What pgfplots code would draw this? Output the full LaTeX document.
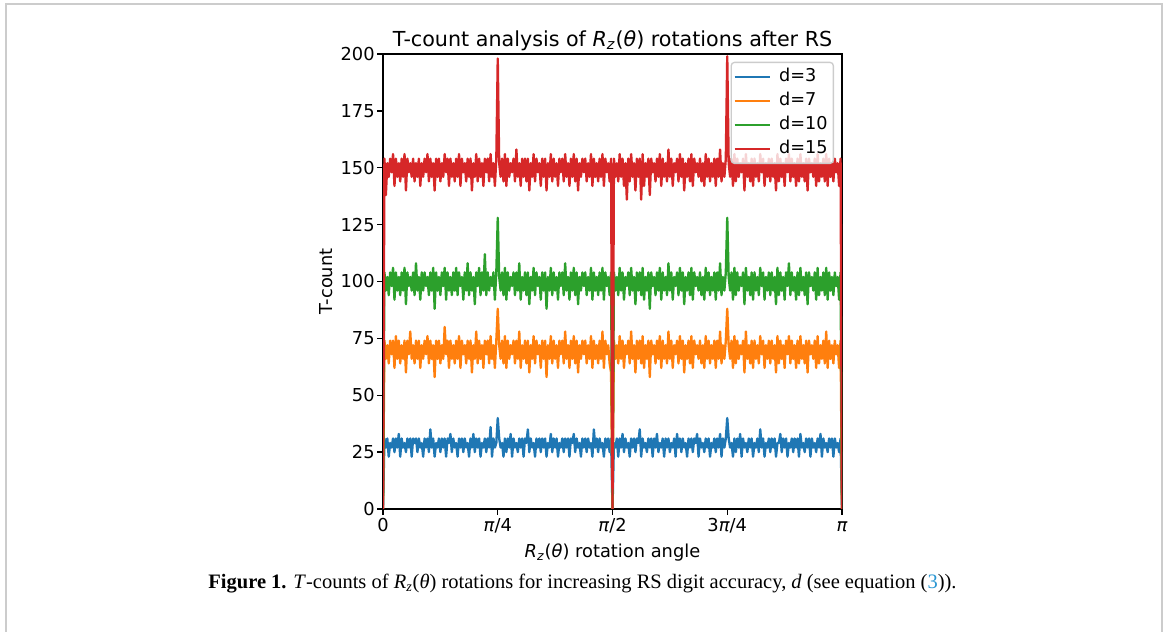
\documentclass[border=0pt]{standalone}
\usepackage{pgfplots}
\pgfplotsset{compat=1.18}
\usepackage{pgfplotstable}
\usepackage{fontspec}
\setmainfont{DejaVu Sans}
\newfontfamily\capfont{Liberation Serif}

\definecolor{tabblue}{HTML}{1F77B4}
\definecolor{taborange}{HTML}{FF7F0E}
\definecolor{tabgreen}{HTML}{2CA02C}
\definecolor{tabred}{HTML}{D62728}
\definecolor{framegray}{HTML}{CCCCCC}
\definecolor{capblue}{HTML}{2A96D2}

% T-count per angle, index 0..320 spans 0..pi (80 = pi/4)
\pgfplotstableread[row sep=\\]{
y\\ 0\\
31\\ 27\\ 31\\ 23\\ 29\\ 27\\ 31\\ 25\\ 31\\ 27\\
33\\ 23\\ 31\\ 27\\ 29\\ 25\\ 31\\ 27\\ 31\\ 23\\
31\\ 29\\ 31\\ 25\\ 31\\ 27\\ 29\\ 23\\ 31\\ 27\\
31\\ 25\\ 35\\ 27\\ 31\\ 23\\ 29\\ 27\\ 31\\ 25\\
31\\ 27\\ 31\\ 23\\ 31\\ 29\\ 33\\ 25\\ 31\\ 27\\
29\\ 23\\ 31\\ 27\\ 31\\ 25\\ 31\\ 27\\ 29\\ 23\\
31\\ 27\\ 33\\ 25\\ 31\\ 27\\ 31\\ 23\\ 29\\ 27\\
31\\ 25\\ 31\\ 27\\ 36\\ 23\\ 31\\ 27\\ 29\\
40\\
31\\ 27\\ 29\\ 23\\ 31\\ 25\\ 31\\ 27\\ 33\\ 23\\
31\\ 27\\ 29\\ 25\\ 31\\ 27\\ 31\\ 23\\ 31\\ 29\\
35\\ 25\\ 31\\ 27\\ 29\\ 23\\ 31\\ 27\\ 31\\ 25\\
31\\ 27\\ 31\\ 23\\ 29\\ 27\\ 33\\ 25\\ 31\\ 27\\
31\\ 23\\ 29\\ 27\\ 31\\ 25\\ 31\\ 27\\ 31\\ 23\\
31\\ 29\\ 33\\ 25\\ 31\\ 27\\ 29\\ 23\\ 31\\ 27\\
31\\ 25\\ 31\\ 27\\ 29\\ 23\\ 35\\ 27\\ 31\\ 25\\
31\\ 27\\ 29\\ 23\\ 31\\ 27\\ 31\\ 25\\ 31\\
0\\
29\\ 27\\ 31\\ 23\\ 31\\ 27\\ 33\\ 25\\ 31\\ 27\\
29\\ 23\\ 31\\ 27\\ 31\\ 25\\ 31\\ 29\\ 35\\ 23\\
31\\ 27\\ 29\\ 25\\ 31\\ 27\\ 31\\ 23\\ 31\\ 27\\
33\\ 25\\ 29\\ 27\\ 31\\ 23\\ 31\\ 27\\ 31\\ 25\\
29\\ 27\\ 31\\ 23\\ 33\\ 27\\ 31\\ 25\\ 31\\ 27\\
29\\ 23\\ 31\\ 27\\ 31\\ 25\\ 31\\ 29\\ 33\\ 23\\
31\\ 27\\ 29\\ 25\\ 31\\ 27\\ 31\\ 23\\ 29\\ 27\\
31\\ 25\\ 31\\ 27\\ 33\\ 23\\ 31\\ 27\\ 31\\
40\\
31\\ 27\\ 29\\ 23\\ 31\\ 25\\ 31\\ 27\\ 33\\ 23\\
31\\ 27\\ 29\\ 25\\ 31\\ 27\\ 31\\ 23\\ 29\\ 27\\
31\\ 25\\ 35\\ 27\\ 31\\ 23\\ 29\\ 27\\ 31\\ 25\\
31\\ 27\\ 31\\ 23\\ 29\\ 29\\ 33\\ 25\\ 31\\ 27\\
31\\ 23\\ 29\\ 27\\ 31\\ 25\\ 31\\ 27\\ 31\\ 23\\
33\\ 27\\ 29\\ 25\\ 31\\ 27\\ 31\\ 23\\ 31\\ 27\\
29\\ 25\\ 31\\ 27\\ 33\\ 23\\ 31\\ 27\\ 29\\ 25\\
31\\ 27\\ 31\\ 23\\ 31\\ 27\\ 29\\ 25\\ 31\\
0\\
}\dthree

\pgfplotstableread[row sep=\\]{
y\\ 0\\
74\\ 66\\ 72\\ 64\\ 74\\ 68\\ 74\\ 62\\ 76\\ 66\\
74\\ 64\\ 72\\ 66\\ 74\\ 60\\ 74\\ 68\\ 78\\ 66\\
72\\ 64\\ 74\\ 66\\ 74\\ 62\\ 72\\ 66\\ 74\\ 68\\
76\\ 64\\ 74\\ 66\\ 72\\ 58\\ 74\\ 66\\ 74\\ 64\\
72\\ 66\\ 80\\ 68\\ 74\\ 62\\ 74\\ 66\\ 72\\ 64\\
74\\ 66\\ 76\\ 62\\ 74\\ 68\\ 72\\ 64\\ 74\\ 66\\
74\\ 60\\ 72\\ 66\\ 78\\ 64\\ 74\\ 66\\ 72\\ 62\\
74\\ 68\\ 74\\ 64\\ 76\\ 66\\ 72\\ 62\\ 74\\
88\\
72\\ 66\\ 74\\ 64\\ 76\\ 62\\ 74\\ 66\\ 72\\ 68\\
74\\ 64\\ 74\\ 66\\ 78\\ 62\\ 72\\ 66\\ 74\\ 64\\
74\\ 60\\ 72\\ 66\\ 76\\ 64\\ 74\\ 68\\ 72\\ 62\\
74\\ 66\\ 74\\ 58\\ 72\\ 66\\ 76\\ 64\\ 74\\ 66\\
72\\ 62\\ 74\\ 68\\ 74\\ 64\\ 78\\ 66\\ 72\\ 62\\
74\\ 66\\ 76\\ 64\\ 74\\ 60\\ 72\\ 66\\ 74\\ 68\\
74\\ 64\\ 72\\ 66\\ 76\\ 62\\ 74\\ 66\\ 72\\ 64\\
74\\ 66\\ 78\\ 62\\ 74\\ 68\\ 72\\ 64\\ 60\\
0\\
74\\ 66\\ 72\\ 64\\ 76\\ 66\\ 74\\ 62\\ 72\\ 68\\
74\\ 64\\ 78\\ 66\\ 72\\ 60\\ 74\\ 66\\ 74\\ 64\\
76\\ 62\\ 72\\ 66\\ 74\\ 58\\ 74\\ 68\\ 72\\ 64\\
74\\ 66\\ 76\\ 62\\ 74\\ 66\\ 72\\ 64\\ 78\\ 66\\
74\\ 62\\ 72\\ 68\\ 74\\ 64\\ 76\\ 66\\ 74\\ 60\\
72\\ 66\\ 74\\ 64\\ 76\\ 62\\ 74\\ 68\\ 72\\ 66\\
74\\ 64\\ 72\\ 62\\ 76\\ 66\\ 74\\ 64\\ 72\\ 66\\
74\\ 62\\ 74\\ 66\\ 78\\ 64\\ 72\\ 66\\ 74\\
88\\
72\\ 66\\ 74\\ 62\\ 76\\ 64\\ 74\\ 66\\ 72\\ 68\\
74\\ 60\\ 78\\ 66\\ 72\\ 64\\ 74\\ 62\\ 74\\ 66\\
72\\ 64\\ 76\\ 68\\ 74\\ 62\\ 72\\ 66\\ 74\\ 64\\
74\\ 66\\ 72\\ 60\\ 76\\ 64\\ 74\\ 66\\ 72\\ 62\\
74\\ 68\\ 76\\ 64\\ 74\\ 66\\ 72\\ 62\\ 74\\ 64\\
76\\ 66\\ 72\\ 64\\ 74\\ 60\\ 74\\ 68\\ 72\\ 66\\
74\\ 62\\ 76\\ 64\\ 72\\ 66\\ 74\\ 64\\ 78\\ 62\\
74\\ 66\\ 72\\ 64\\ 74\\ 68\\ 72\\ 62\\ 74\\
0\\
}\dseven

\pgfplotstableread[row sep=\\]{
y\\ 0\\
104\\ 96\\ 102\\ 94\\ 104\\ 98\\ 106\\ 92\\ 104\\ 96\\
102\\ 94\\ 104\\ 96\\ 106\\ 90\\ 104\\ 98\\ 102\\ 96\\
104\\ 94\\ 108\\ 96\\ 102\\ 92\\ 104\\ 96\\ 104\\ 98\\
102\\ 94\\ 104\\ 96\\ 106\\ 88\\ 104\\ 96\\ 102\\ 94\\
104\\ 98\\ 106\\ 92\\ 104\\ 96\\ 102\\ 94\\ 104\\ 96\\
106\\ 94\\ 104\\ 98\\ 102\\ 92\\ 104\\ 96\\ 108\\ 94\\
104\\ 96\\ 102\\ 90\\ 104\\ 98\\ 106\\ 94\\ 104\\ 96\\
112\\ 94\\ 104\\ 96\\ 102\\ 98\\ 104\\ 92\\ 104\\
128\\
102\\ 96\\ 104\\ 94\\ 106\\ 92\\ 104\\ 96\\ 102\\ 98\\
104\\ 94\\ 104\\ 96\\ 108\\ 92\\ 102\\ 96\\ 104\\ 94\\
104\\ 90\\ 102\\ 96\\ 106\\ 94\\ 104\\ 98\\ 102\\ 92\\
104\\ 96\\ 104\\ 88\\ 102\\ 96\\ 106\\ 94\\ 104\\ 96\\
102\\ 92\\ 104\\ 98\\ 104\\ 94\\ 108\\ 96\\ 102\\ 92\\
104\\ 96\\ 106\\ 94\\ 104\\ 90\\ 102\\ 96\\ 104\\ 98\\
104\\ 94\\ 102\\ 96\\ 106\\ 92\\ 104\\ 96\\ 102\\ 94\\
104\\ 96\\ 106\\ 92\\ 104\\ 98\\ 102\\ 94\\ 104\\
0\\
104\\ 96\\ 102\\ 94\\ 106\\ 96\\ 104\\ 92\\ 102\\ 98\\
104\\ 94\\ 106\\ 96\\ 102\\ 90\\ 104\\ 96\\ 104\\ 94\\
106\\ 92\\ 102\\ 96\\ 104\\ 88\\ 104\\ 98\\ 102\\ 94\\
104\\ 96\\ 106\\ 92\\ 104\\ 96\\ 102\\ 94\\ 108\\ 96\\
104\\ 92\\ 102\\ 98\\ 104\\ 94\\ 106\\ 96\\ 104\\ 90\\
102\\ 96\\ 104\\ 94\\ 106\\ 92\\ 104\\ 98\\ 102\\ 96\\
104\\ 94\\ 102\\ 92\\ 106\\ 96\\ 104\\ 94\\ 102\\ 96\\
104\\ 92\\ 104\\ 96\\ 108\\ 94\\ 102\\ 96\\ 104\\
128\\
102\\ 96\\ 104\\ 92\\ 106\\ 94\\ 104\\ 96\\ 102\\ 98\\
104\\ 90\\ 106\\ 96\\ 102\\ 94\\ 104\\ 92\\ 104\\ 96\\
102\\ 94\\ 106\\ 98\\ 104\\ 92\\ 102\\ 96\\ 104\\ 94\\
104\\ 96\\ 102\\ 90\\ 106\\ 94\\ 104\\ 96\\ 102\\ 92\\
104\\ 98\\ 108\\ 94\\ 104\\ 96\\ 102\\ 92\\ 104\\ 94\\
106\\ 96\\ 102\\ 94\\ 104\\ 90\\ 104\\ 98\\ 102\\ 96\\
104\\ 92\\ 106\\ 94\\ 102\\ 96\\ 104\\ 94\\ 106\\ 92\\
104\\ 96\\ 102\\ 94\\ 104\\ 98\\ 102\\ 92\\ 104\\
0\\
}\dten

\pgfplotstableread[row sep=\\]{
y\\ 0\\
154\\ 138\\ 152\\ 146\\ 154\\ 148\\ 156\\ 142\\ 154\\ 146\\
152\\ 144\\ 154\\ 146\\ 156\\ 140\\ 154\\ 148\\ 152\\ 146\\
154\\ 144\\ 152\\ 146\\ 154\\ 142\\ 152\\ 146\\ 154\\ 148\\
156\\ 144\\ 154\\ 146\\ 152\\ 140\\ 154\\ 146\\ 154\\ 144\\
152\\ 146\\ 156\\ 148\\ 154\\ 142\\ 154\\ 146\\ 152\\ 144\\
154\\ 146\\ 156\\ 142\\ 154\\ 148\\ 152\\ 144\\ 154\\ 146\\
154\\ 140\\ 152\\ 146\\ 156\\ 144\\ 154\\ 146\\ 152\\ 142\\
154\\ 148\\ 154\\ 144\\ 156\\ 146\\ 152\\ 142\\ 154\\
198\\
152\\ 146\\ 154\\ 144\\ 156\\ 142\\ 154\\ 146\\ 152\\ 148\\
154\\ 144\\ 158\\ 146\\ 152\\ 142\\ 154\\ 146\\ 154\\ 144\\
154\\ 140\\ 152\\ 146\\ 156\\ 144\\ 154\\ 148\\ 152\\ 142\\
154\\ 146\\ 154\\ 140\\ 152\\ 146\\ 156\\ 144\\ 154\\ 146\\
152\\ 142\\ 154\\ 148\\ 154\\ 144\\ 156\\ 146\\ 152\\ 142\\
154\\ 146\\ 156\\ 144\\ 154\\ 140\\ 152\\ 146\\ 154\\ 148\\
154\\ 144\\ 152\\ 146\\ 156\\ 142\\ 154\\ 146\\ 152\\ 144\\
154\\ 146\\ 156\\ 142\\ 154\\ 148\\ 152\\ 144\\ 154\\
0\\
154\\ 146\\ 152\\ 144\\ 156\\ 146\\ 154\\ 142\\ 152\\ 136\\
154\\ 144\\ 156\\ 146\\ 152\\ 140\\ 154\\ 146\\ 154\\ 136\\
156\\ 142\\ 152\\ 146\\ 154\\ 138\\ 154\\ 148\\ 152\\ 144\\
154\\ 146\\ 156\\ 142\\ 154\\ 146\\ 152\\ 144\\ 158\\ 146\\
154\\ 142\\ 152\\ 148\\ 154\\ 144\\ 156\\ 146\\ 154\\ 140\\
152\\ 146\\ 154\\ 144\\ 156\\ 142\\ 154\\ 148\\ 152\\ 146\\
154\\ 144\\ 152\\ 142\\ 156\\ 146\\ 154\\ 144\\ 152\\ 146\\
154\\ 142\\ 154\\ 146\\ 158\\ 144\\ 152\\ 146\\ 154\\
199\\
152\\ 146\\ 154\\ 142\\ 156\\ 144\\ 154\\ 146\\ 152\\ 148\\
154\\ 140\\ 156\\ 146\\ 152\\ 144\\ 154\\ 142\\ 154\\ 146\\
152\\ 144\\ 156\\ 148\\ 154\\ 142\\ 152\\ 146\\ 154\\ 144\\
154\\ 146\\ 152\\ 140\\ 156\\ 144\\ 154\\ 146\\ 152\\ 142\\
154\\ 148\\ 156\\ 144\\ 154\\ 146\\ 152\\ 142\\ 154\\ 144\\
156\\ 146\\ 152\\ 144\\ 154\\ 140\\ 154\\ 148\\ 152\\ 146\\
154\\ 142\\ 156\\ 144\\ 152\\ 146\\ 154\\ 144\\ 156\\ 142\\
154\\ 146\\ 152\\ 144\\ 154\\ 148\\ 152\\ 142\\ 154\\
0\\
}\dfifteen

\begin{document}
\begin{tikzpicture}
\useasboundingbox (0pt,0pt) rectangle (699pt,379.2pt);
\begin{axis}[
  at={(229.8pt,73.8pt)}, anchor=south west,
  scale only axis, width=275.4pt, height=273pt,
  xmin=0, xmax=320, ymin=0, ymax=200,
  xtick={0,80,160,240,320},
  xticklabels={0,\textit{π}/4,\textit{π}/2,3\textit{π}/4,\textit{π}},
  ytick={0,25,...,200},
  tick pos=left, tick align=outside, major tick length=3.5pt,
  tick style={black, line width=0.8pt},
  axis line style={line width=0.9pt},
  /pgf/number format/assume math mode=true,
  tick label style={font=\fontsize{10.7}{12.8}\selectfont},
  xticklabel style={anchor=base, inner sep=0pt, yshift=-10.1pt},
  yticklabel style={anchor=east, inner sep=0pt, xshift=-1.3pt},
  xlabel={\textit{R}\textsubscript{\textit{z}}(\textit{θ}) rotation angle},
  xlabel style={font=\fontsize{10.7}{12.8}\selectfont, at={(axis description cs:0.5,-0.1064)}, anchor=base, inner sep=0pt},
  ylabel={T-count},
  ylabel style={font=\fontsize{10.7}{12.8}\selectfont, at={(axis description cs:-0.1242,0.5)}, anchor=center, inner sep=0pt},
  every axis plot/.append style={line width=1.4pt, line join=round},
  legend style={at={(0.9826,0.983)}, anchor=north east,
    font=\fontsize{10.6}{12.7}\selectfont,
    draw=framegray, line width=0.8pt, rounded corners=2pt,
    fill=white, fill opacity=0.8, text opacity=1,
    inner xsep=1.4pt, inner ysep=1.5pt,
    nodes={inner sep=2pt, text height=8pt, text depth=2.4pt},
    /tikz/every odd column/.append style={column sep=3.2pt}},
  legend cell align=left,
  legend image code/.code={\draw[#1, line width=1.2pt] (0pt,0pt) -- (21pt,0pt);},
]
\addplot[tabblue] table[x expr=\coordindex, y=y] {\dthree};
\addlegendentry{d=3}
\addplot[taborange] table[x expr=\coordindex, y=y] {\dseven};
\addlegendentry{d=7}
\addplot[tabgreen] table[x expr=\coordindex, y=y] {\dten};
\addlegendentry{d=10}
\addplot[tabred] table[x expr=\coordindex, y=y] {\dfifteen};
\addlegendentry{d=15}
\end{axis}
% title, baseline 7px above the axis box
\node[anchor=base, inner sep=0pt, font=\fontsize{12.4}{14.8}\selectfont] at (367.5pt,351.2pt)
  {T-count analysis of \textit{R}\textsubscript{\textit{z}}(\textit{θ}) rotations after RS};
\draw[framegray, line width=1.2pt] (3.6pt,0pt) -- (3.6pt,376.6pt) -- (697.4pt,376.6pt) -- (697.4pt,0pt);
\node[anchor=base, inner sep=0pt, font=\capfont\fontsize{12.3}{14.6}\selectfont] at (349.5pt,25.8pt)
  {\textbf{Figure 1.} \textit{T}-counts of \textit{R}\textsubscript{\textit{z}}(\textit{θ}) rotations for increasing RS digit accuracy, \textit{d} (see equation (\textcolor{capblue}{3})).};
\end{tikzpicture}
\end{document}
